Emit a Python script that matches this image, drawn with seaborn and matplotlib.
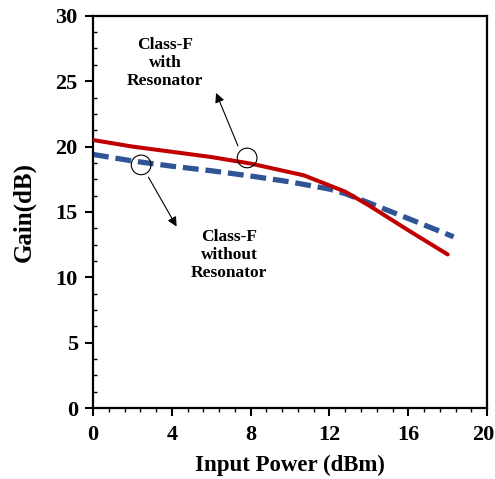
import matplotlib
matplotlib.use("Agg")
import matplotlib.pyplot as plt
from matplotlib.patches import Ellipse
from matplotlib.ticker import MultipleLocator
from matplotlib.transforms import ScaledTranslation
import seaborn as sns
import pandas as pd

# Data
x_with = [0, 2, 4, 6, 8, 10.7, 12.8, 14, 16, 18]
gain_with = [20.5, 20.0, 19.6, 19.2, 18.7, 17.8, 16.55, 15.5, 13.6, 11.75]
x_without = [0, 2, 4, 6, 8, 10, 12, 12.8, 14, 16, 18.3]
gain_without = [19.4, 18.9, 18.5, 18.15, 17.75, 17.3, 16.75, 16.4, 15.7, 14.5, 13.1]

label_with = "Class-F\nwith\nResonator"
label_without = "Class-F\nwithout\nResonator"
x_label = "Input Power (dBm)"
y_label = "Gain(dB)"
x_ticks = [0, 4, 8, 12, 16, 20]
y_ticks = [0, 5, 10, 15, 20, 25, 30]

sns.set_theme(style="ticks")
plt.rcParams['font.family'] = ['Liberation Serif', 'DejaVu Serif']
plt.rcParams['text.color'] = 'black'
plt.rcParams['xtick.color'] = 'black'
plt.rcParams['ytick.color'] = 'black'
plt.rcParams['axes.labelcolor'] = 'black'

df_with = pd.DataFrame({"x": x_with, "y": gain_with})
df_without = pd.DataFrame({"x": x_without, "y": gain_without})

fig = plt.figure(figsize=(4.95, 4.79), dpi=100)
ax = fig.add_axes([0.188, 0.148, 0.796, 0.819])

sns.lineplot(data=df_with, x="x", y="y", ax=ax, color="#C00000", linewidth=2.9,
             estimator=None, sort=False)
sns.lineplot(data=df_without, x="x", y="y", ax=ax, color="#2F5597", linewidth=3.8,
             estimator=None, sort=False)
ax.lines[1].set_dashes((3.0, 1.3))
ax.lines[0].set_zorder(3)
ax.lines[1].set_zorder(2)

ax.set_xlim(0, 20)
ax.set_ylim(0, 30)
ax.set_xticks(x_ticks)
ax.set_yticks(y_ticks)
ax.xaxis.set_minor_locator(MultipleLocator(0.8))
ax.yaxis.set_minor_locator(MultipleLocator(1.25))
ax.tick_params(axis='both', which='major', direction='out', length=6, width=1.5,
               labelsize=16)
ax.tick_params(axis='x', which='major', pad=6)
ax.tick_params(axis='y', which='major', pad=5)
ax.tick_params(axis='x', which='minor', direction='out', length=3, width=1)
ax.tick_params(axis='y', which='minor', direction='in', length=3, width=1)
for lab in ax.get_xticklabels() + ax.get_yticklabels():
    lab.set_fontweight('bold')
last = ax.get_xticklabels()[-1]
last.set_transform(last.get_transform() + ScaledTranslation(-4 / 100, 0, fig.dpi_scale_trans))
for s in ax.spines.values():
    s.set_linewidth(1.6)
    s.set_color('black')

ax.set_xlabel(x_label, fontsize=16.5, fontweight='bold', labelpad=7)
ax.set_ylabel(y_label, fontsize=18, fontweight='bold', labelpad=14)

# annotations
ax.add_patch(Ellipse((7.82, 19.13), 1.0, 1.5, fill=False, edgecolor='black', linewidth=0.8, zorder=4))
ax.add_patch(Ellipse((2.44, 18.6), 1.0, 1.5, fill=False, edgecolor='black', linewidth=0.8, zorder=4))
ax.annotate("", xy=(6.19, 24.3), xytext=(7.41, 19.85),
            arrowprops=dict(arrowstyle='-|>', color='black', lw=0.8, mutation_scale=14))
ax.annotate("", xy=(4.31, 13.7), xytext=(2.74, 17.85),
            arrowprops=dict(arrowstyle='-|>', color='black', lw=0.8, mutation_scale=14))
ax.text(3.65, 26.4, label_with, ha='center', va='center', fontsize=12.5,
        fontweight='bold', linespacing=1.18)
ax.text(6.9, 11.7, label_without, ha='center', va='center', fontsize=12.5,
        fontweight='bold', linespacing=1.18)

fig.savefig("out.png", dpi=100)
